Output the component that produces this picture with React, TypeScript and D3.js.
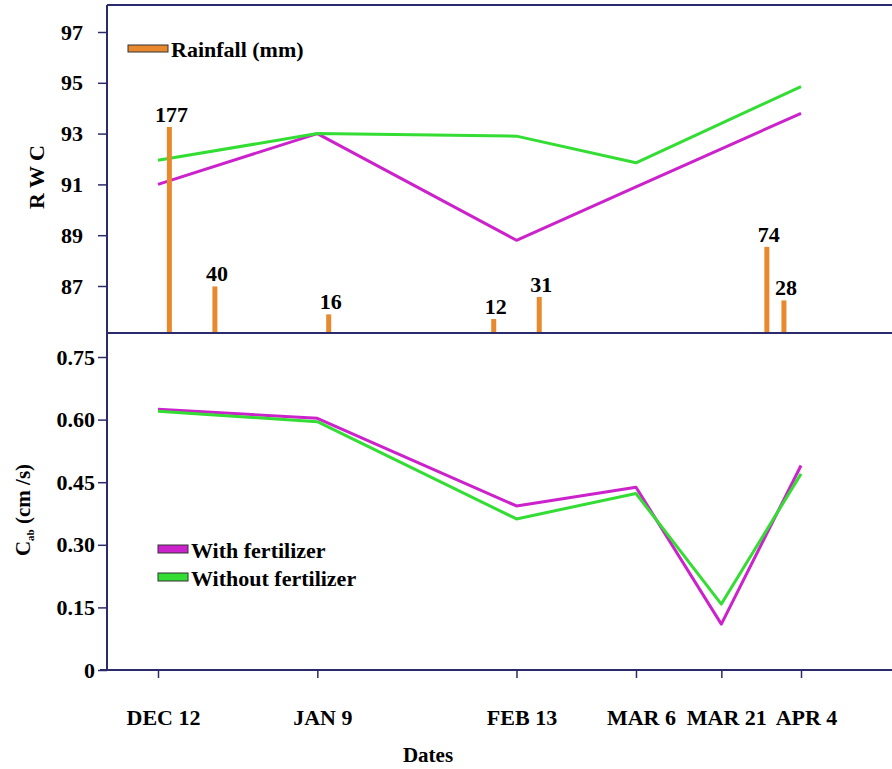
import React, { useEffect, useRef } from 'react'
import * as d3 from 'd3'

// sampling dates and their printed labels
const dates = ['2001-12-12', '2002-01-09', '2002-02-13', '2002-03-06', '2002-03-21', '2002-04-04']
const dateLabels = ['DEC 12', 'JAN 9', 'FEB 13', 'MAR 6', 'MAR 21', 'APR 4']

// relative water content (top panel)
const rwcWith = [91.0, 93.0, 88.8, 90.9, 92.4, 93.8]
const rwcWithout = [91.95, 93.0, 92.9, 91.85, 93.4, 94.85]

// stomatal conductance Cab in cm/s (bottom panel)
const cabWith = [0.625, 0.603, 0.393, 0.438, 0.11, 0.49]
const cabWithout = [0.62, 0.595, 0.362, 0.423, 0.158, 0.47]

// rainfall events (mm)
const rainDates = ['2001-12-14', '2001-12-22', '2002-01-11', '2002-02-09', '2002-02-17', '2002-03-29', '2002-04-01']
const rainValues = [177, 40, 16, 12, 31, 74, 28]

const rwcTicks = [87, 89, 91, 93, 95, 97]
const cabTicks = [0, 0.15, 0.3, 0.45, 0.6, 0.75]
const cabTickLabels = ['0', '0.15', '0.30', '0.45', '0.60', '0.75']

const MAGENTA = '#cc22cc'
const GREEN = '#33dd33'
const ORANGE = '#e8892e'
const AXIS = '#2b2a6b'
const FAMILY = "'Liberation Serif', 'DejaVu Serif', serif"

// serif bold text helper
const font = (sel: any, size: number) =>
  sel.attr('font-family', FAMILY).attr('font-weight', 'bold').attr('font-size', size).attr('fill', '#000')

export default function App() {
  const svgRef = useRef<SVGSVGElement>(null)

  useEffect(() => {
    const svg = d3.select(svgRef.current)
    svg.selectAll('*').remove()

    const W = 892
    const left = 107
    const top = 5
    const mid = 333
    const bottom = 670

    const parse = d3.timeParse('%Y-%m-%d')
    const xDates = dates.map(d => parse(d) as Date)
    const x = d3.scaleTime().domain([xDates[0], xDates[xDates.length - 1]]).range([158, 801])
    const yTop = d3.scaleLinear().domain([87, 97]).range([286, 32])
    const yBot = d3.scaleLinear().domain([0, 0.75]).range([bottom, 357])
    const rainH = d3.scaleLinear().domain([0, 177]).range([mid, 127])

    const rain = rainDates.map((d, i) => ({ date: parse(d) as Date, v: rainValues[i] }))

    // lines
    const topLine = d3.line<number>().x((_, i) => x(xDates[i])).y(d => yTop(d))
    const botLine = d3.line<number>().x((_, i) => x(xDates[i])).y(d => yBot(d))

    const lines = svg.append('g').attr('fill', 'none').attr('stroke-width', 3).attr('stroke-linejoin', 'round')
    lines.append('path').attr('d', topLine(rwcWith)).attr('stroke', MAGENTA)
    lines.append('path').attr('d', topLine(rwcWithout)).attr('stroke', GREEN)
    lines.append('path').attr('d', botLine(cabWith)).attr('stroke', MAGENTA)
    lines.append('path').attr('d', botLine(cabWithout)).attr('stroke', GREEN)

    // rainfall bars
    svg.selectAll('.rain').data(rain).enter().append('rect')
      .attr('class', 'rain')
      .attr('x', d => x(d.date) - 2.5)
      .attr('width', 5)
      .attr('y', d => rainH(d.v))
      .attr('height', d => mid - rainH(d.v))
      .attr('fill', ORANGE)

    svg.selectAll('.rain-label').data(rain).enter().append('text')
      .attr('class', 'rain-label')
      .attr('x', d => x(d.date) + 2)
      .attr('y', d => rainH(d.v) - 5)
      .attr('text-anchor', 'middle')
      .call(font, 22)
      .text(d => d.v)

    // frame
    const frame = svg.append('g').attr('stroke', AXIS).attr('stroke-width', 2)
    frame.append('line').attr('x1', left).attr('x2', W).attr('y1', top).attr('y2', top)
    frame.append('line').attr('x1', left).attr('x2', W).attr('y1', mid).attr('y2', mid)
    frame.append('line').attr('x1', 100).attr('x2', W).attr('y1', bottom).attr('y2', bottom)
    frame.append('line').attr('x1', left).attr('x2', left).attr('y1', top).attr('y2', bottom)

    const styleAxis = (g: any) => {
      g.select('.domain').remove()
      g.selectAll('line').attr('stroke', AXIS).attr('stroke-width', 1.5)
      g.attr('font-family', null).attr('font-size', null)
      g.selectAll('text').call(font, 22)
    }

    svg.append('g')
      .attr('transform', `translate(${left},0)`)
      .call(d3.axisLeft(yTop).tickValues(rwcTicks).tickSize(9).tickPadding(15).tickFormat(d3.format('d')))
      .call(styleAxis)

    svg.append('g')
      .attr('transform', `translate(${left},0)`)
      .call(d3.axisLeft(yBot).tickValues(cabTicks).tickSize(9).tickPadding(3)
        .tickFormat((_, i) => cabTickLabels[i]))
      .call(styleAxis)

    const xa = svg.append('g')
      .attr('transform', `translate(0,${bottom})`)
      .call(d3.axisBottom(x).tickValues(xDates).tickSize(8).tickPadding(31)
        .tickFormat((_, i) => dateLabels[i]))
      .call(styleAxis)
    xa.selectAll('text').attr('dx', 5)

    // axis titles
    svg.append('text')
      .attr('transform', 'translate(44,177) rotate(-90)')
      .attr('text-anchor', 'middle')
      .call(font, 22)
      .text('R W C')

    const cab = svg.append('text')
      .attr('transform', 'translate(30,510) rotate(-90)')
      .attr('text-anchor', 'middle')
      .call(font, 21)
    cab.append('tspan').text('C')
    cab.append('tspan').attr('dy', 4).attr('font-size', 11).text('ab')
    cab.append('tspan').attr('dy', -4).text(' (cm /s)')

    svg.append('text')
      .attr('x', 428).attr('y', 762)
      .attr('text-anchor', 'middle')
      .call(font, 21)
      .text('Dates')

    // legends
    const legends = [
      { label: 'Rainfall (mm)', color: ORANGE, x: 128, y: 45, w: 40, h: 7 },
      { label: 'With fertilizer', color: MAGENTA, x: 158, y: 545, w: 30, h: 8 },
      { label: 'Without fertilizer', color: GREEN, x: 158, y: 573, w: 30, h: 8 },
    ]
    const lg = svg.selectAll('.legend').data(legends).enter().append('g').attr('class', 'legend')
    lg.append('rect')
      .attr('x', d => d.x).attr('y', d => d.y).attr('width', d => d.w).attr('height', d => d.h)
      .attr('fill', d => d.color).attr('stroke', '#333').attr('stroke-width', 1)
    lg.append('text')
      .attr('x', d => d.x + d.w + 3)
      .attr('y', d => d.y + d.h + 5)
      .call(font, 22)
      .text(d => d.label)
  }, [])

  return (
    <svg ref={svgRef} width={892} height={769}
      style={{ position: 'absolute', left: 0, top: 0, background: '#fff' }} />
  )
}
